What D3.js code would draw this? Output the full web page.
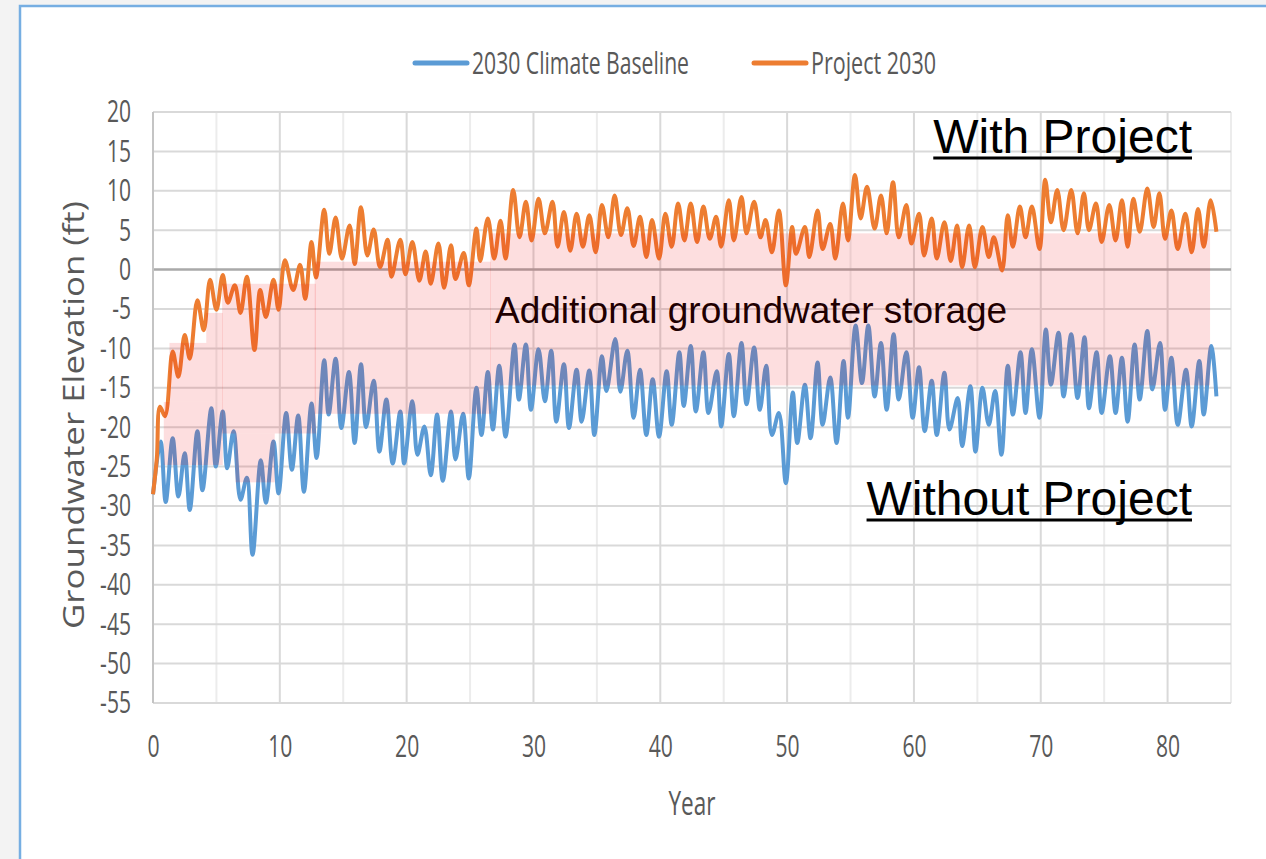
<!DOCTYPE html>
<html><head><meta charset="utf-8">
<script src="https://cdn.jsdelivr.net/npm/d3@7"></script>
<style>
html,body{margin:0;padding:0;background:#fff;}
svg{display:block;}
</style></head>
<body>
<svg id="chart" width="1266" height="859"></svg>
<script>
// ---------------- DATA ----------------
const seriesNames = ["2030 Climate Baseline", "Project 2030"];
const seriesColors = ["#5b9bd5", "#ed7d31"];

const baselineYears = [0,0.6,1.0,1.55,2.0,2.5,2.9,3.5,3.9,4.6,4.95,5.5,5.85,6.35,6.9,7.4,7.85,8.5,8.9,9.5,9.9,10.5,10.95,11.45,11.9,12.5,12.9,13.5,13.85,14.4,14.85,15.45,15.9,16.4,16.8,17.4,17.85,18.4,18.9,19.5,19.8,20.45,20.85,21.4,21.9,22.4,22.85,23.5,23.85,24.45,24.9,25.5,25.9,26.4,26.8,27.3,27.8,28.5,28.85,29.4,29.8,30.4,30.9,31.4,31.8,32.4,32.8,33.4,33.8,34.4,34.8,35.4,35.75,36.45,36.85,37.4,37.9,38.4,38.9,39.4,39.9,40.5,40.9,41.5,41.85,42.4,42.8,43.4,43.8,44.45,44.8,45.4,45.8,46.4,46.8,47.4,47.85,48.35,48.8,49.35,49.9,50.45,50.8,51.4,51.85,52.4,52.8,53.4,53.9,54.45,54.8,55.4,55.9,56.4,56.9,57.4,57.85,58.4,58.8,59.4,59.9,60.4,60.85,61.4,61.8,62.4,62.8,63.45,63.8,64.45,64.85,65.4,65.9,66.4,66.9,67.4,67.8,68.4,68.8,69.3,69.9,70.4,70.8,71.4,71.8,72.4,72.9,73.45,73.8,74.4,74.8,75.45,75.9,76.4,76.85,77.4,77.8,78.4,78.8,79.4,79.8,80.3,80.8,81.45,81.9,82.5,82.85,83.45,83.85];
const baselineValues = [-28.5,-21.8,-29.5,-21.4,-28.8,-23.3,-30.5,-20.5,-28,-17.6,-25,-18,-25.2,-20.5,-29.2,-26.4,-36.2,-24.2,-29.6,-21.8,-28.4,-18.2,-25.4,-18.5,-28.2,-17,-23.9,-11.5,-18.4,-11.3,-20.1,-13,-22,-12,-20,-14.1,-23.1,-16.5,-24.6,-18,-24.6,-16.7,-23.5,-19.9,-26.1,-18.4,-26.8,-18,-24.1,-18.3,-26.5,-15,-21,-13,-20.3,-12.2,-21.2,-9.5,-16.5,-9.5,-17.8,-10.1,-16.7,-10.3,-19.3,-12,-20.1,-12.7,-19.3,-12.8,-21,-11,-15.4,-8.8,-15.5,-10.3,-18.8,-12.7,-21,-13.9,-21.2,-12.9,-19.7,-10.5,-17.3,-9.7,-18,-10.5,-18.2,-12.9,-19.9,-10.7,-18.6,-9.3,-17.1,-9.9,-17.8,-12.2,-21,-18.2,-27.1,-15.6,-22,-14.6,-21.4,-11.8,-19.7,-13.7,-22,-11.6,-18.8,-7.1,-14.4,-7.1,-16.1,-9.3,-17.8,-8.2,-16.5,-10.5,-18.8,-12.4,-20.5,-14.1,-21,-13.1,-20.3,-16.3,-22.4,-14.8,-23.1,-15,-19.7,-15.4,-23.5,-12.2,-18.4,-10.5,-18.2,-10.1,-18.8,-7.6,-14.6,-8,-16.1,-8.2,-16.3,-8.6,-17.6,-10.5,-18.2,-11,-18.2,-11.2,-19.3,-9.5,-16.5,-7.8,-15.2,-9.3,-17.8,-11.2,-19.7,-12.7,-19.9,-11.6,-18.4,-9.7,-16.1];

const projectYears = [0,0.3,0.55,0.95,1.55,2.0,2.5,2.9,3.5,4.0,4.5,5.0,5.5,5.9,6.45,6.9,7.4,8.0,8.45,8.9,9.5,9.9,10.4,11.05,11.6,12.0,12.5,12.85,13.5,13.9,14.4,14.9,15.5,15.9,16.4,16.9,17.4,17.9,18.5,18.8,19.5,19.9,20.45,21.0,21.5,21.9,22.5,22.95,23.5,23.85,24.5,24.9,25.5,25.8,26.4,26.9,27.4,27.8,28.4,28.9,29.4,29.85,30.4,30.9,31.5,31.9,32.4,32.9,33.4,33.9,34.4,34.9,35.4,35.9,36.4,36.9,37.4,37.9,38.4,38.9,39.35,39.9,40.4,40.9,41.4,41.9,42.4,42.9,43.4,43.9,44.4,44.8,45.4,45.8,46.4,46.8,47.4,47.9,48.3,48.8,49.35,49.9,50.4,50.7,51.4,51.75,52.4,52.8,53.4,53.8,54.4,54.8,55.35,55.8,56.3,56.9,57.4,57.85,58.35,58.8,59.4,59.8,60.4,60.8,61.4,61.8,62.4,62.9,63.4,63.8,64.35,64.8,65.4,65.9,66.3,66.95,67.4,67.8,68.35,68.8,69.3,69.9,70.35,70.8,71.3,71.8,72.4,72.9,73.4,73.8,74.35,74.8,75.4,75.9,76.4,76.85,77.3,77.8,78.4,78.9,79.35,79.8,80.3,80.8,81.4,81.9,82.4,82.85,83.4,83.85];
const projectValues = [-28.5,-24,-17.4,-18.6,-10.4,-13.6,-8.3,-11.3,-3.9,-7.7,-1.3,-5.1,-0.7,-4.2,-2,-5.5,-0.9,-10.2,-2.6,-6,-1.3,-5.1,1.2,-2.6,0.6,-3.7,3.5,-1,7.6,2,6.6,1.4,5.6,0.7,7.9,1.8,5.1,0.3,3.8,-0.9,3.8,-0.6,3.5,-1.4,2.3,-1.8,3.3,-2.3,3.1,-1.2,2.1,-2,5.2,1.1,6.5,1.4,6.2,1.4,10.1,4.1,8.6,3.7,9,4.6,8.6,2.9,7.3,2.4,7.1,2.9,6.9,2.2,8.2,4.1,9.4,4.4,7.8,3,6.7,1.6,6.3,1.4,7.1,2.9,8.4,3.7,8.4,3.5,8,3.9,6.7,2.9,8.8,3.7,9.2,4.6,8.6,4.1,6.3,2.2,7.5,-2,5.4,2,5.4,1.6,7.5,2.6,5.8,1.4,8.4,3.7,12,6.5,10.5,5.2,9.4,4.6,11.1,4.1,8.2,3.3,7.1,1.8,6.5,1.4,6,1.1,5.6,0.3,5.6,0.3,5.4,1.6,4.1,-0.1,6.9,2.9,8,4.1,8,2.6,11.4,6,10.1,5,10.1,4.6,9.7,5,8.4,3.5,8.2,3.7,8.8,2.9,9,4.8,10.3,5.4,9.7,3.9,7.5,2.6,7.1,2.2,7.7,2.9,8.8,4.8];

// "Additional groundwater storage" shaded blocks (year start/end, elevation top/bottom)
const storageX0 = [0.85, 1.3, 4.2, 5.45, 6.5, 12.75, 26.6];
const storageX1 = [5.5, 5.5, 5.5, 12.85, 9.6, 26.65, 83.35];
const storageTop = [-16.8, -9.3, -5.5, -1.8, -20.8, 1.0, 4.6];
const storageBottom = [-24.8, -16.8, -9.3, -20.8, -27.0, -18.3, -14.7];

const yTicks = [20,15,10,5,0,-5,-10,-15,-20,-25,-30,-35,-40,-45,-50,-55];
const xTicks = [0,10,20,30,40,50,60,70,80];
const xGrid = [5,10,15,20,25,30,35,40,45,50,55,60,65,70,75,80,85];

// ---------------- LAYOUT ----------------
const svg = d3.select("#chart");
const L = 153, R = 1231, T = 112, B = 703;
const x = d3.scaleLinear().domain([0, 85]).range([L, R]);
const y = d3.scaleLinear().domain([-55, 20]).range([B, T]);
const excelFont = "'Open Sans', 'Noto Sans', sans-serif";
const txtCol = "#595959";
const plainNum = d => String(d);

// background / frame
svg.append("rect").attr("x",0).attr("y",0).attr("width",1266).attr("height",859).attr("fill","#f3f3f3");
svg.append("rect").attr("x",20).attr("y",6).attr("width",1270).attr("height",870).attr("fill","#ffffff")
  .attr("stroke","#76aee2").attr("stroke-width",2.5);

// grid
const g = svg.append("g");
g.selectAll("line.vg").data(xGrid).join("line")
  .attr("x1", d => x(d)).attr("x2", d => x(d)).attr("y1", T).attr("y2", B)
  .attr("stroke", d => d % 10 === 0 ? "#d9d9d9" : "#ececec").attr("stroke-width", 2);
g.selectAll("line.hg").data(yTicks).join("line")
  .attr("x1", L).attr("x2", R).attr("y1", d => y(d)).attr("y2", d => y(d))
  .attr("stroke", d => d === 0 ? "#a9a9a9" : "#d9d9d9").attr("stroke-width", d => d === 0 ? 2.5 : 2);
g.append("line").attr("x1", L).attr("x2", L).attr("y1", T).attr("y2", B).attr("stroke","#c4c4c4").attr("stroke-width",2);

// axes
function compress(sel, factor){
  sel.each(function(){
    const w = this.getComputedTextLength();
    this.setAttribute("textLength", (w*factor).toFixed(1));
    this.setAttribute("lengthAdjust", "spacingAndGlyphs");
  });
}
const ya = svg.append("g").attr("transform", `translate(${L},0)`)
  .call(d3.axisLeft(y).tickValues(yTicks).tickSize(0).tickPadding(22).tickFormat(plainNum));
ya.select(".domain").remove();
ya.selectAll("text").attr("font-family", excelFont).attr("font-size", 31).attr("fill", txtCol);
compress(ya.selectAll("text"), 0.68);

const xa = svg.append("g").attr("transform", `translate(0,${B})`)
  .call(d3.axisBottom(x).tickValues(xTicks).tickSize(0).tickPadding(32).tickFormat(plainNum));
xa.select(".domain").remove();
xa.selectAll("text").attr("font-family", excelFont).attr("font-size", 31).attr("fill", txtCol);
compress(xa.selectAll("text"), 0.68);

// series
const line = d3.line().x(d => x(d[0])).y(d => y(d[1])).curve(d3.curveCatmullRom.alpha(0.5));
const baseline = baselineYears.map((yr,i) => [yr, baselineValues[i]]);
const project = projectYears.map((yr,i) => [yr, projectValues[i]]);
svg.append("path").datum(baseline).attr("d", line).attr("fill","none")
  .attr("stroke", seriesColors[0]).attr("stroke-width", 4).attr("stroke-linejoin","round");
svg.append("path").datum(project).attr("d", line).attr("fill","none")
  .attr("stroke", seriesColors[1]).attr("stroke-width", 4).attr("stroke-linejoin","round");

// annotation text (under shading)
svg.append("text").attr("x", 495).attr("y", 323).attr("font-family","'Liberation Sans', Arial, sans-serif")
  .attr("font-size", 37).attr("fill","#000").text("Additional groundwater storage");

// shaded storage blocks
svg.append("g").selectAll("rect").data(storageX0).join("rect")
  .attr("x", (d,i) => x(d)).attr("width", (d,i) => x(storageX1[i]) - x(d))
  .attr("y", (d,i) => y(storageTop[i])).attr("height", (d,i) => y(storageBottom[i]) - y(storageTop[i]))
  .attr("fill", "rgb(240,0,10)").attr("fill-opacity", 0.13);

// With / Without project labels
const lab = [{t:"With Project", yb:153}, {t:"Without Project", yb:515}];
lab.forEach(o => {
  const t = svg.append("text").attr("x", 1192).attr("y", o.yb).attr("text-anchor","end")
    .attr("font-family","'Liberation Sans', Arial, sans-serif").attr("font-size", 48).attr("fill","#000").text(o.t);
  const w = t.node().getComputedTextLength();
  svg.append("line").attr("x1", 1192 - w).attr("x2", 1192).attr("y1", o.yb + 5).attr("y2", o.yb + 5)
    .attr("stroke","#000").attr("stroke-width", 3);
});

// legend
const legX = [415, 754], legW = [217, 125];
seriesNames.forEach((n,i) => {
  svg.append("line").attr("x1", legX[i]).attr("x2", legX[i] + 52).attr("y1", 63).attr("y2", 63)
    .attr("stroke", seriesColors[i]).attr("stroke-width", 5).attr("stroke-linecap","round");
  svg.append("text").attr("x", legX[i] + 57).attr("y", 74).attr("font-family", excelFont)
    .attr("font-size", 31).attr("fill", txtCol).attr("textLength", legW[i]).attr("lengthAdjust","spacingAndGlyphs").text(n);
});

// axis titles
svg.append("text").attr("x", 692).attr("y", 815).attr("text-anchor","middle").attr("font-family", excelFont)
  .attr("font-size", 32).attr("fill", txtCol).attr("textLength", 47).attr("lengthAdjust","spacingAndGlyphs").text("Year");
svg.append("text").attr("transform","translate(84,415) rotate(-90)").attr("text-anchor","middle")
  .attr("font-family", excelFont).attr("font-size", 30).attr("fill", txtCol)
  .attr("textLength", 428).attr("lengthAdjust","spacingAndGlyphs").text("Groundwater Elevation (ft)");
</script>
</body></html>
